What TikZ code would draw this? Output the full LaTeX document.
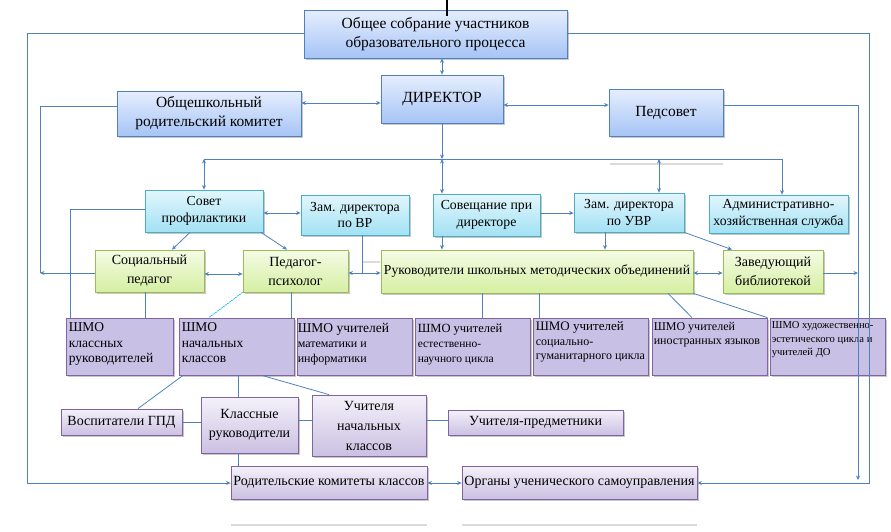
\documentclass[tikz,border=0pt]{standalone}
\usepackage{fontspec}
\setmainfont{Liberation Serif}
\usetikzlibrary{arrows.meta,shadows,calc}
\definecolor{cline}{HTML}{4F81BD}
\definecolor{bdblue}{HTML}{4F81BD}
\definecolor{tblue}{HTML}{E6EEFD}
\definecolor{bblue}{HTML}{A6C4F6}
\definecolor{bdcyan}{HTML}{4BACC6}
\definecolor{tcyan}{HTML}{E2F6FC}
\definecolor{bcyan}{HTML}{A2E1F4}
\definecolor{bdgreen}{HTML}{9BBB59}
\definecolor{tgreen}{HTML}{F5FBE6}
\definecolor{bgreen}{HTML}{D5EFA2}
\definecolor{bdpurple}{HTML}{8064A2}
\definecolor{tpurple}{HTML}{F4F1FA}
\definecolor{bpurple}{HTML}{CBC0E2}
\definecolor{fshmo}{HTML}{C8C0E5}
\definecolor{dotcyan}{HTML}{00B0F0}
\definecolor{faint}{HTML}{DADADA}
\begin{document}
\begin{tikzpicture}[x=1pt,y=-1pt,
  box/.style={draw, line width=0.8pt, align=center, inner sep=1pt,
    drop shadow={shadow xshift=2pt,shadow yshift=-2pt,fill=black!40,opacity=0.55}},
  bluebox/.style={box, draw=bdblue, top color=tblue, bottom color=bblue, font=\fontsize{15.5}{19}\selectfont},
  cyanbox/.style={box, draw=bdcyan, top color=tcyan, bottom color=bcyan, font=\fontsize{13.8}{16.5}\selectfont},
  greenbox/.style={box, draw=bdgreen, top color=tgreen, bottom color=bgreen, font=\fontsize{14}{19}\selectfont},
  purplebox/.style={box, draw=bdpurple, top color=tpurple, bottom color=bpurple, font=\fontsize{14}{19}\selectfont},
  shmobox/.style={box, draw=bdpurple, fill=fshmo, minimum height=57pt},
  shmotext/.style={anchor=north west, align=left, inner sep=0pt},
  conn/.style={draw=cline, line width=0.8pt},
  arr/.style={-{Stealth[length=4.5pt,width=4pt]}},
  darr/.style={{Stealth[length=4.5pt,width=4pt]}-{Stealth[length=4.5pt,width=4pt]}},
]
\useasboundingbox (0,0) rectangle (891,531);

% faint artifacts
\draw[faint, line width=1.2pt] (610,164) -- (723,164);
\draw[faint, line width=1.2pt] (363,262) -- (380,262);
\draw[faint, line width=1.2pt] (231,525) -- (427,525);
\draw[faint, line width=1.2pt] (462,525) -- (697,525);

% top row
\node[bluebox, minimum width=263pt, minimum height=48pt] (obs) at (435.5,34) {Общее собрание участников\\образовательного процесса};
\node[bluebox, minimum width=122pt, minimum height=48pt] (dir) at (442,99) {ДИРЕКТОР};
\node[bluebox, minimum width=184pt, minimum height=45pt] (orc) at (209,113.5) {Общешкольный\\родительский комитет};
\node[bluebox, minimum width=114pt, minimum height=47pt] (ped) at (666,112.5) {Педсовет};

% cyan row
\node[cyanbox, minimum width=118pt, minimum height=42pt] (sov) at (204,211) {Совет\\профилактики};
\node[cyanbox, minimum width=108pt, minimum height=40pt] (zvr) at (355,215) {Зам. директора\\по ВР};
\node[cyanbox, minimum width=107pt, minimum height=42pt] (sovd) at (486.5,215) {Совещание при\\директоре};
\node[cyanbox, minimum width=110pt, minimum height=39pt] (zuvr) at (629,212.5) {Зам. директора\\по УВР};
\node[cyanbox, minimum width=139pt, minimum height=38pt] (ahs) at (778.5,214) {Административно-\\хозяйственная служба};

% green row
\node[greenbox, minimum width=109pt, minimum height=42pt] (socp) at (149.5,271) {Социальный\\педагог};
\node[greenbox, minimum width=105pt, minimum height=42pt] (psy) at (295.5,271) {Педагог-\\психолог};
\node[greenbox, minimum width=312pt, minimum height=43pt, font=\fontsize{13.6}{19}\selectfont] (ruk) at (537,271.5) {Руководители школьных методических объединений};
\node[greenbox, minimum width=100pt, minimum height=43pt] (bib) at (773,271.5) {Заведующий\\библиотекой};

% SHMO row
\node[shmobox, minimum width=107pt] (s1) at (119.5,346.5) {};
\node[shmobox, minimum width=115pt] (s2) at (236.5,346.5) {};
\node[shmobox, minimum width=115pt] (s3) at (354.5,346.5) {};
\node[shmobox, minimum width=115pt] (s4) at (472.5,346.5) {};
\node[shmobox, minimum width=115pt] (s5) at (590.5,346.5) {};
\node[shmobox, minimum width=115pt] (s6) at (709.5,346.5) {};
\node[shmobox, minimum width=115pt] (s7) at (827.5,346.5) {};
\node[shmotext, font=\fontsize{13.5}{15.5}\selectfont] (t1) at ($(s1.north west)+(3,5)$) {ШМО\\классных\\руководителей};
\node[shmotext, font=\fontsize{13.5}{15.5}\selectfont] (t2) at ($(s2.north west)+(3,5)$) {ШМО\\начальных\\классов};
\node[shmotext, font=\fontsize{12}{15}\selectfont] (t3) at ($(s3.north west)+(1,5)$) {{\fontsize{13.5}{15}\selectfont ШМО учителей}\\математики и\\информатики};
\node[shmotext, font=\fontsize{11.5}{15}\selectfont] (t4) at ($(s4.north west)+(3,6)$) {{\fontsize{12.5}{15}\selectfont ШМО учителей}\\естественно-\\научного цикла};
\node[shmotext, font=\fontsize{12}{14.5}\selectfont] (t5) at ($(s5.north west)+(3,4)$) {{\fontsize{13}{14.5}\selectfont ШМО учителей}\\социально-\\гуманитарного цикла};
\node[shmotext, font=\fontsize{12}{14}\selectfont] (t6) at ($(s6.north west)+(2,4)$) {ШМО учителей\\иностранных языков};
\node[shmotext, font=\fontsize{10.6}{13.5}\selectfont] (t7) at ($(s7.north west)+(2,4)$) {ШМО художественно-\\эстетического цикла и\\учителей ДО};

% bottom rows
\node[purplebox, minimum width=121pt, minimum height=26pt] (gpd) at (121.5,422) {Воспитатели ГПД};
\node[purplebox, minimum width=97pt, minimum height=56pt] (klr) at (249.5,425) {Классные\\руководители};
\node[purplebox, minimum width=114pt, minimum height=61pt, font=\fontsize{14}{20}\selectfont] (unk) at (369,425.5) {Учителя\\начальных\\классов};
\node[purplebox, minimum width=175pt, minimum height=25pt] (upr) at (535.5,422.5) {Учителя-предметники};
\node[purplebox, minimum width=196pt, minimum height=33pt] (rkk) at (329,482.5) {Родительские комитеты классов};
\node[purplebox, minimum width=235pt, minimum height=33pt] (orn) at (579.5,482.5) {Органы ученического самоуправления};

% black mark at top
\coordinate (topA) at (447,0);
\coordinate (topB) at (447,16);
\draw[black, line width=1.6pt] (topA) -- (topB);

% connectors: top part
\draw[conn,darr] (dir.north |- obs.south) -- (dir.north);
\draw[conn,darr] (orc.east |- 0,103) -- (dir.west |- 0,103);
\draw[conn,darr] (dir.east |- 0,105) -- (ped.west |- 0,105);
\draw[conn,arr] (obs.west |- 0,33) -| (27,483) -- (rkk.west |- 0,483);
\draw[conn,arr] (obs.east |- 0,33) -| (869,483) -- (orn.east |- 0,483);
\draw[conn,arr] (ped.east |- 0,105) -| (858,480);

% bus
\coordinate (busL) at (204,159);
\coordinate (busC) at (442,159);
\coordinate (busR) at (782,159);
\draw[conn,arr] (dir.south) -- (busC);
\draw[conn] (busL) -- (busR);
\draw[conn,darr] (busL) -- (sov.north);
\draw[conn,darr] (busC) -- (sovd.north -| busC);
\draw[conn,darr] (busC -| 659,0) -- (zuvr.north -| 659,0);
\draw[conn,arr] (busR) -- (ahs.north -| busR);

% middle
\draw[conn,darr] (sov.east |- 0,213) -- (zvr.west |- 0,213);
\draw[conn,arr] (sov.south -| 190,0) -- (socp.north -| 172,0);
\draw[conn,arr] (sov.south -| 261,0) -- (psy.north -| 287,0);
\draw[conn,darr] (socp.east |- 0,274) -- (psy.west |- 0,274);
\draw[conn] (orc.west |- 0,106) -| (40,273);
\draw[conn,arr] (socp.west |- 0,273) -- (40,273);
\draw[conn] (sov.west |- 0,209) -| (s1.north -| 70,0);
\draw[conn] (socp.south -| 145,0) -- (s1.north -| 145,0);
\draw[dotcyan, line width=0.8pt, dash pattern=on 1.5pt off 1pt] (psy.south west) -- (s2.north -| 209,0);
\draw[conn] (psy.south -| 291,0) -- (s2.north -| 291,0);
\draw[conn] (zvr.south -| 362,0) -- (362,273);
\draw[conn,darr] (psy.east |- 0,273) -- (ruk.west |- 0,273);
\draw[conn,arr] (sovd.south -| busC) -- (ruk.north -| busC);
\draw[conn,arr] (sovd.east |- 0,213) -- (zuvr.west |- 0,213);
\draw[conn,arr] (zuvr.south -| 605,0) -- (ruk.north -| 605,0);
\draw[conn,arr] (zuvr.south east) -- (bib.north -| 732,0);
\draw[conn,darr] (ruk.east |- 0,273) -- (bib.west |- 0,273);
\draw[conn,arr] (bib.east |- 0,273) -- (858,273);

% ruk to SHMO
\draw[conn] (ruk.south -| 482,0) -- (s4.north -| 482,0);
\draw[conn] (ruk.south -| 539,0) -- (s5.north -| 539,0);
\draw[conn] (ruk.south -| 668,0) -- (s6.north -| 692,0);
\draw[conn] (ruk.south east) -- (s6.north east);

% lower part
\draw[conn] (s2.south -| 183,0) -- (gpd.north -| 138,0);
\draw[conn] (s2.south -| 238,0) -- (klr.north -| 238,0);
\draw[conn] (s2.south -| 262,0) -- (unk.north -| 329,0);
\draw[conn] (gpd.east |- 0,422) -- (klr.west |- 0,422);
\draw[conn] (klr.east |- 0,420) -- (unk.west |- 0,420);
\draw[conn] (unk.east |- 0,420) -- (upr.west |- 0,420);
\draw[conn] (klr.south -| 238,0) -- (rkk.north -| 238,0);
\draw[conn,darr] (rkk.east |- 0,483) -- (orn.west |- 0,483);
\end{tikzpicture}
\end{document}
